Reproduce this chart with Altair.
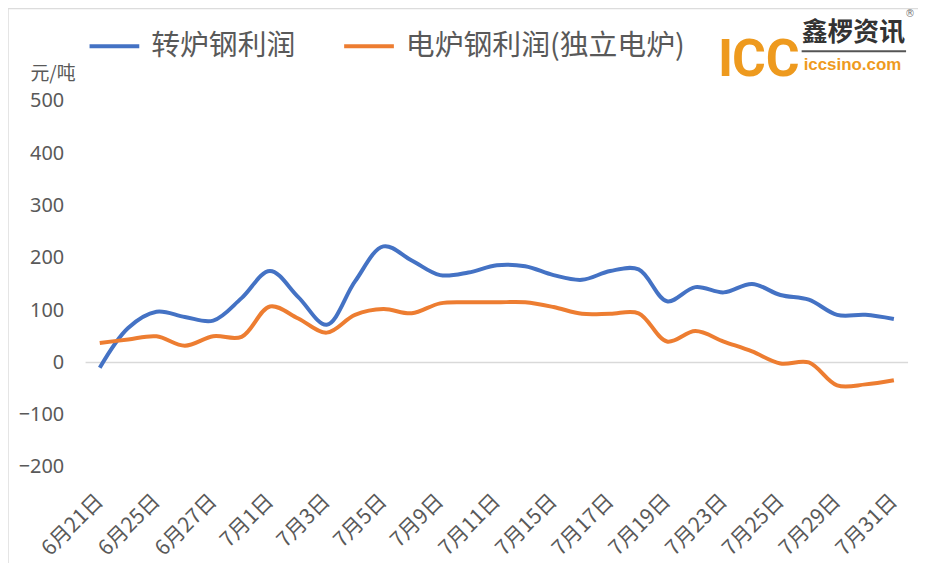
import altair as alt
import pandas as pd

dates = ["6月21日", "6月24日", "6月25日", "6月26日", "6月27日", "6月28日",
         "7月1日", "7月2日", "7月3日", "7月4日", "7月5日", "7月8日", "7月9日",
         "7月10日", "7月11日", "7月12日", "7月15日", "7月16日", "7月17日",
         "7月18日", "7月19日", "7月22日", "7月23日", "7月24日", "7月25日",
         "7月26日", "7月29日", "7月30日", "7月31日"]
shown_dates = ["6月21日", "6月25日", "6月27日", "7月1日", "7月3日", "7月5日",
               "7月9日", "7月11日", "7月15日", "7月17日", "7月19日", "7月23日",
               "7月25日", "7月29日", "7月31日"]
bof = [-10, 66, 97, 87, 80, 123, 175, 125, 72, 155, 222, 195, 167, 172, 186,
       184, 167, 158, 175, 178, 117, 144, 134, 150, 129, 120, 91, 91, 83]
eaf = [37, 44, 50, 32, 50, 49, 107, 84, 57, 91, 102, 94, 113, 115, 115,
       115, 106, 93, 93, 94, 40, 60, 40, 21, -2, 0, -44, -42, -34]
series_names = ["转炉钢利润", "电炉钢利润(独立电炉)"]
series_colors = ["#4472C4", "#ED7D31"]
y_ticks = [-200, -100, 0, 100, 200, 300, 400, 500]

n = len(dates)
df = pd.DataFrame({
    "date": dates * 2,
    "series": [series_names[0]] * n + [series_names[1]] * n,
    "value": bof + eaf,
    "order": list(range(n)) * 2,
})

FONT = "Noto Sans CJK SC"
GRAY = "#595959"
ORANGE = "#EE9A1E"

x_enc = alt.X("date:N", sort=dates,
              scale=alt.Scale(type="point", padding=0.5),
              axis=alt.Axis(values=shown_dates, labelAngle=-45, labelAlign="right",
                            labelBaseline="middle", labelFontSize=21, labelColor=GRAY,
                            labelFont=FONT, labelPadding=31, ticks=False, domain=False,
                            grid=False, title=None, labelOverlap=False))
y_enc = alt.Y("value:Q", scale=alt.Scale(domain=[-200, 500], nice=False, zero=False),
              axis=alt.Axis(values=y_ticks, grid=False, domain=False, ticks=False,
                            labelFontSize=20, labelColor=GRAY, labelFont="Noto Sans",
                            labelPadding=22, title="元/吨", titleAngle=0,
                            titleAlign="left", titleBaseline="middle", titleX=-56,
                            titleY=-28, titleFontSize=19, titleFontWeight="normal",
                            titleColor=GRAY, titleFont=FONT))

lines = alt.Chart(df).mark_line(interpolate="catmull-rom", strokeWidth=4).encode(
    x=x_enc,
    y=y_enc,
    color=alt.Color("series:N",
                    scale=alt.Scale(domain=series_names, range=series_colors),
                    legend=alt.Legend(orient="none", legendX=2, legendY=-82,
                                      direction="horizontal", title=None,
                                      symbolType="stroke", symbolSize=2500,
                                      symbolStrokeWidth=4, labelFontSize=29,
                                      labelColor=GRAY, labelFont=FONT, labelLimit=500,
                                      columnPadding=40, labelOffset=10)),
    order="order:Q",
)

zero = alt.Chart(pd.DataFrame({"v": [0]})).mark_rule(color="#d9d9d9", strokeWidth=1.5).encode(
    y=alt.Y("v:Q")
)

border = alt.Chart(pd.DataFrame({"a": [0]})).mark_rect(
    fill=None, stroke="#dcdcdc", strokeWidth=1.5
).encode(x=alt.value(-78), y=alt.value(-93), x2=alt.value(900), y2=alt.value(520))


def txt(t, x, y, **kw):
    return alt.Chart(pd.DataFrame({"t": [t]})).mark_text(**kw).encode(
        text="t:N", x=alt.value(x), y=alt.value(y))


icc_kw = dict(align="left", baseline="alphabetic", font="Roboto",
              fontWeight="bold", fontSize=52, color=ORANGE)
logo_i = txt("I", 636, -25, **icc_kw)
logo_c1 = txt("C", 650, -25, **icc_kw)
logo_c2 = txt("C", 684, -25, **icc_kw)
logo_cn = txt("鑫椤资讯", 720, -68, align="left", baseline="middle",
              font=FONT, fontWeight="bold", fontSize=26, color="#333333")
logo_line = alt.Chart(pd.DataFrame({"a": [0]})).mark_rule(color="#555555", strokeWidth=2).encode(
    x=alt.value(720), x2=alt.value(825), y=alt.value(-50))
logo_url = txt("iccsino.com", 722, -36, align="left", baseline="middle",
               font="Liberation Sans", fontWeight="bold", fontSize=17, color=ORANGE)
logo_r = txt("®", 824, -87, align="left", baseline="middle",
             font="DejaVu Sans", fontSize=10, color="#777777")

chart = alt.layer(border, zero, lines, logo_i, logo_c1, logo_c2, logo_cn, logo_line,
                  logo_url, logo_r).properties(
    width=827, height=368,
    autosize=alt.AutoSizeParams(type="none"),
    padding={"left": 78, "top": 92, "right": 10, "bottom": 95},
).configure_view(stroke=None)

chart.save("out.html", embed_options={"renderer": "svg", "actions": False})
